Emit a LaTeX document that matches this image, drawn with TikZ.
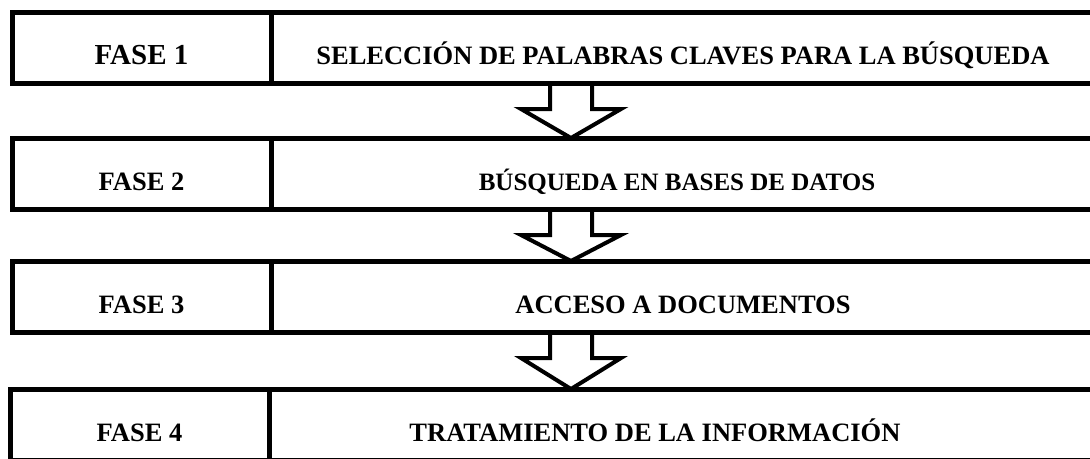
\documentclass[tikz,border=0pt]{standalone}
\usepackage{fontspec}
\setmainfont{Liberation Serif}
\usetikzlibrary{positioning,calc}

\tikzset{
  caja/.style={draw, line width=5pt, outer sep=0pt, inner sep=0pt,
    minimum height=71pt, text height=34pt, text depth=0pt,
    font=\fontsize{26.5}{30}\selectfont\bfseries},
  fase/.style={caja, minimum width=259pt},
  etapa/.style={caja, minimum width=824pt},
  flecha/.style={line width=4pt, line join=miter},
}

\begin{document}
\begin{tikzpicture}[x=1pt,y=-1pt]
\clip (0,0) rectangle (1090,458);
    \node[fase, font=\fontsize{29}{32}\selectfont\bfseries] (f1) at (141.5,47.5) {FASE 1};
    \node[etapa, right=0pt of f1] (e1) {SELECCIÓN DE PALABRAS CLAVES PARA LA BÚSQUEDA};
\node[fase, below=55pt of f1] (f2) {FASE 2};
\node[etapa, right=0pt of f2, font=\fontsize{25}{30}\selectfont\bfseries] (e2) {BÚSQUEDA EN BASES DE DATOS\hspace*{12pt}};
\node[fase, below=52pt of f2] (f3) {FASE 3};
\node[etapa, right=0pt of f3] (e3) {ACCESO A DOCUMENTOS};
\node[fase, below=57pt of f3, xshift=-2pt] (f4) {FASE 4};
\node[etapa, right=0pt of f4] (e4) {TRATAMIENTO DE LA INFORMACIÓN\hspace*{52pt}};
\coordinate (ej) at (571,0);
% flechas entre fases
\foreach \a/\b in {e1/e2, e2/e3, e3/e4}
  \draw[flecha] let \p1=(\a.south -| ej), \p2=(\b.north -| ej) in
    (\x1-21pt,\y1) -- (\x1-21pt,\y1-26pt) -- (\x1-50pt,\y1-26pt) -- (\p2)
    -- (\x1+50pt,\y1-26pt) -- (\x1+21pt,\y1-26pt) -- (\x1+21pt,\y1);
  \end{tikzpicture}
\end{document}
